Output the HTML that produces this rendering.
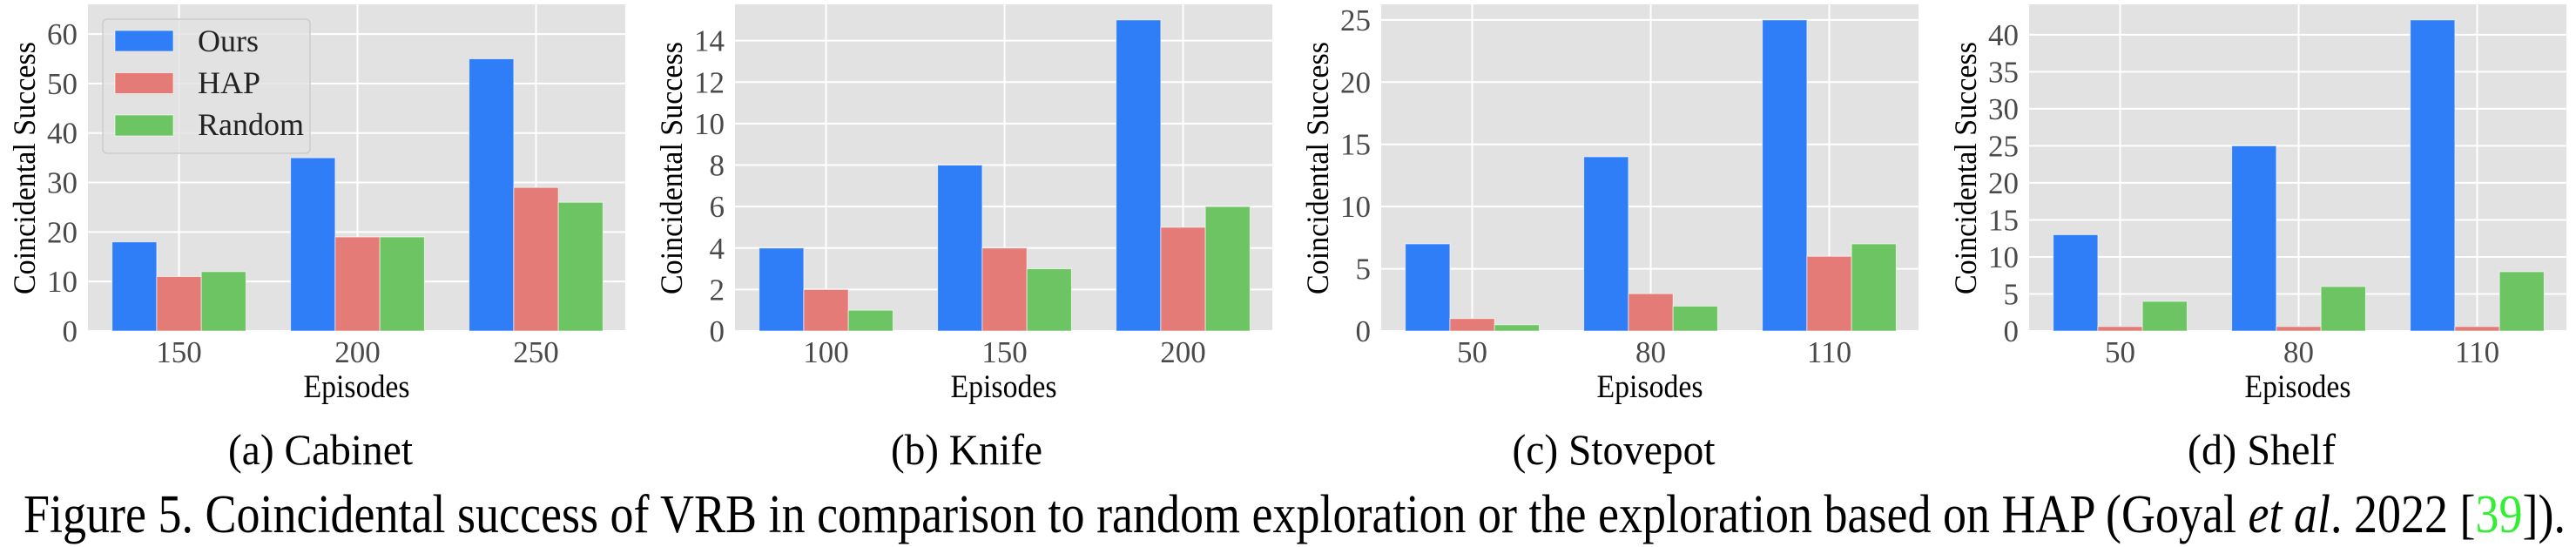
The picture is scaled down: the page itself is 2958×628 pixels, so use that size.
<!DOCTYPE html>
<html><head><meta charset="utf-8"><style>
html,body{margin:0;padding:0;background:#fff;}
svg{display:block;font-family:"Liberation Serif","Times New Roman",serif;}
svg text{font-family:"Liberation Serif","Times New Roman",serif;}
</style></head><body>
<svg id="fig" width="2958" height="628" viewBox="0 0 2958 628" xmlns="http://www.w3.org/2000/svg" font-family="Liberation Serif, serif">
<g id="charts"></g>
<text x="27" y="611" font-size="62" fill="#000" font-family="Liberation Serif, serif" textLength="2919" lengthAdjust="spacingAndGlyphs">Figure 5. Coincidental success of VRB in comparison to random exploration or the exploration based on HAP (Goyal <tspan font-style="italic">et al</tspan>. 2022  [<tspan fill="#33ee33">39</tspan>]).</text>
</svg>
<script>
const seriesNames = ["Ours", "HAP", "Random"];
const seriesColors = ["#2f7ef7", "#e57b77", "#6dc462"];
const panelTitles = ["(a) Cabinet", "(b) Knife", "(c) Stovepot", "(d) Shelf"];
const episodesA = ["150", "200", "250"];
const episodesB = ["100", "150", "200"];
const episodesC = ["50", "80", "110"];
const episodesD = ["50", "80", "110"];
const oursA = [18, 35, 55];
const hapA = [11, 19, 29];
const randomA = [12, 19, 26];
const oursB = [4, 8, 15];
const hapB = [2, 4, 5];
const randomB = [1, 3, 6];
const oursC = [7, 14, 25];
const hapC = [1, 3, 6];
const randomC = [0.5, 2, 7];
const oursD = [13, 25, 42];
const hapD = [0.6, 0.6, 0.6];
const randomD = [4, 6, 8];
const yTicksA = [0, 10, 20, 30, 40, 50, 60];
const yTicksB = [0, 2, 4, 6, 8, 10, 12, 14];
const yTicksC = [0, 5, 10, 15, 20, 25];
const yTicksD = [0, 5, 10, 15, 20, 25, 30, 35, 40];
const yMaxes = [66, 15.75, 26.25, 44.1];

const NS = "http://www.w3.org/2000/svg";
const root = document.getElementById("charts");
function mk(tag, attrs, parent) {
  const e = document.createElementNS(NS, tag);
  for (const k in attrs) e.setAttribute(k, attrs[k]);
  if (tag === "text") e.setAttribute("font-family", "Liberation Serif, serif");
  parent.appendChild(e);
  return e;
}
const panels = [
  {left: 101, cats: episodesA, series: [oursA, hapA, randomA], ticks: yTicksA, capX: 368, capW: 212},
  {left: 844, cats: episodesB, series: [oursB, hapB, randomB], ticks: yTicksB, capX: 1110, capW: 174},
  {left: 1586, cats: episodesC, series: [oursC, hapC, randomC], ticks: yTicksC, capX: 1853, capW: 233},
  {left: 2330, cats: episodesD, series: [oursD, hapD, randomD], ticks: yTicksD, capX: 2597, capW: 170}
];
const W = 617, TOP = 5, BOT = 380, BARW = 0.25;
panels.forEach((p, pi) => {
  const g = mk("g", {}, root);
  
  
  const ymax = yMaxes[pi];
  const xs = v => p.left + (v + 0.51) / 3.01 * W;
  const ys = v => BOT - v / ymax * (BOT - TOP);
  const bg = mk("rect", {x: p.left, y: TOP, width: W, height: BOT - TOP, fill: "#e2e2e2"}, g);
  
  
  p.ticks.forEach(t => {
    const gl = mk("line", {x1: p.left, x2: p.left + W, y1: ys(t), y2: ys(t), stroke: "#fff", "stroke-width": 2}, g);
    
    
    const tl = mk("text", {x: p.left - 12, y: ys(t) + 12, "font-size": 35, fill: "#4a4a4a", "text-anchor": "end"}, g);
    tl.textContent = t;
    
    
  });
  p.cats.forEach((c, i) => {
    const gl = mk("line", {x1: xs(i), x2: xs(i), y1: TOP, y2: BOT, stroke: "#fff", "stroke-width": 2}, g);
    
    
    const tl = mk("text", {x: xs(i), y: 416, "font-size": 35, fill: "#4a4a4a", "text-anchor": "middle"}, g);
    tl.textContent = c;
    
    
  });
  p.series.forEach((vals, si) => {
    vals.forEach((v, i) => {
      const cx = i + (si - 1) * BARW;
      const b = mk("rect", {x: xs(cx - BARW / 2), y: ys(v), width: xs(cx + BARW / 2) - xs(cx - BARW / 2), height: ys(0) - ys(v), fill: seriesColors[si], stroke: "rgba(255,255,255,0.6)", "stroke-width": 1}, g);
      
      
    });
  });
  const yl = mk("text", {x: 0, y: 0, "font-size": 36, fill: "#000", "text-anchor": "middle", transform: "translate(" + (p.left - 61) + "," + 193 + ") rotate(-90)", textLength: 290, lengthAdjust: "spacingAndGlyphs"}, g);
  yl.textContent = "Coincidental Success";
  
  
  const xl = mk("text", {x: p.left + W / 2, y: 456, "font-size": 37, fill: "#000", "text-anchor": "middle", textLength: 122, lengthAdjust: "spacingAndGlyphs"}, g);
  xl.textContent = "Episodes";
  
  
  const cap = mk("text", {x: p.capX, y: 533, "font-size": 50, fill: "#000", "text-anchor": "middle", textLength: p.capW, lengthAdjust: "spacingAndGlyphs"}, g);
  cap.textContent = panelTitles[pi];
  
  
  if (pi === 0) {
    const lg = mk("g", {}, g);
    
    
    mk("rect", {x: 118, y: 22, width: 238, height: 154, rx: 5, fill: "rgba(226,226,226,0.8)", stroke: "#cccccc", "stroke-width": 1.5}, lg);
    seriesNames.forEach((n, si) => {
      const e = mk("g", {}, lg);
      
      
      mk("rect", {x: 132, y: 35 + si * 48.5, width: 67, height: 24, fill: seriesColors[si], stroke: "rgba(255,255,255,0.6)", "stroke-width": 1}, e);
      const t = mk("text", {x: 227, y: 59 + si * 48, "font-size": 36, fill: "#222"}, e);
      t.textContent = n;
    });
  }
});
</script>
</body></html>
